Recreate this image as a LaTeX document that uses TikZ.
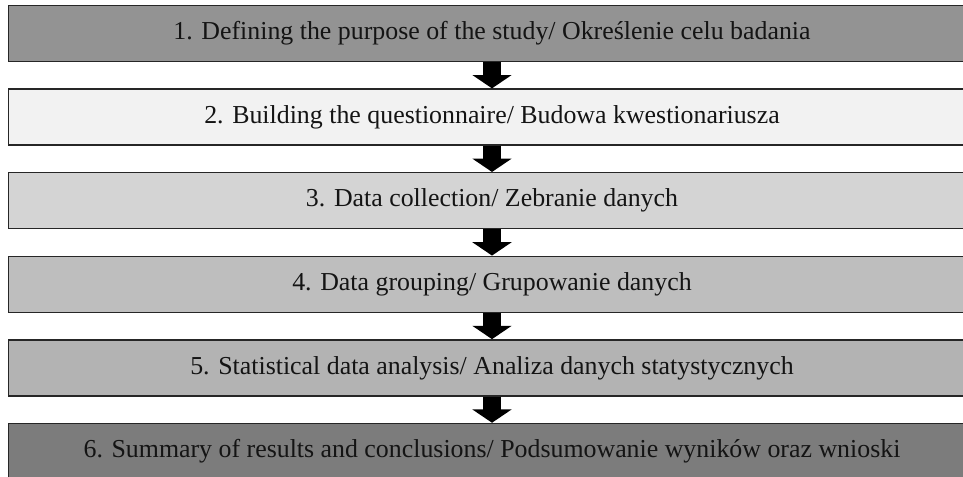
\documentclass[tikz,border=0pt]{standalone}
\usepackage{fontspec}
\setmainfont{Liberation Serif}
\usepackage{tikz}
\usetikzlibrary{positioning,arrows.meta}
\definecolor{StageDark}{RGB}{147,147,147}
\definecolor{StageLight}{RGB}{242,242,242}
\definecolor{StageSilver}{RGB}{212,212,212}
\definecolor{StageMid}{RGB}{190,190,190}
\definecolor{StageSteel}{RGB}{179,179,179}
\definecolor{StageDeep}{RGB}{124,124,124}
\tikzset{
	stage/.style={draw=black!85,line width=1.1pt,minimum width=725pt,minimum height=42pt,
		inner sep=0pt,font=\fontsize{19.4}{23}\selectfont,text=black!92},
	flow/.style={line width=12.8pt,-{Triangle[width=29pt,length=10pt]}},
}
\begin{document}
\begin{tikzpicture}[x=0.75pt,y=-0.75pt,node distance=19.6pt]
	\useasboundingbox (0,0) rectangle (963,477);
	\clip (0,0) rectangle (963,477);
	\node[stage,fill=StageDark] (s1) at (492,33.5) {1. Defining the purpose of the study/ Określenie celu badania};
	\node[stage,fill=StageLight,below=of s1] (s2) {2. Building the questionnaire/ Budowa kwestionariusza};
	\node[stage,fill=StageSilver,below=of s2] (s3) {3. Data collection/ Zebranie danych};
	\node[stage,fill=StageMid,below=of s3] (s4) {4. Data grouping/ Grupowanie danych};
	\node[stage,fill=StageSteel,below=of s4] (s5) {5. Statistical data analysis/ Analiza danych statystycznych};
	\node[stage,fill=StageDeep,below=of s5] (s6) {6. Summary of results and conclusions/ Podsumowanie wyników oraz wnioski};
	\foreach \a/\b in {s1/s2,s2/s3,s3/s4,s4/s5,s5/s6}
		\draw[flow] (\a.south) -- (\b.north);
\end{tikzpicture}
\end{document}
